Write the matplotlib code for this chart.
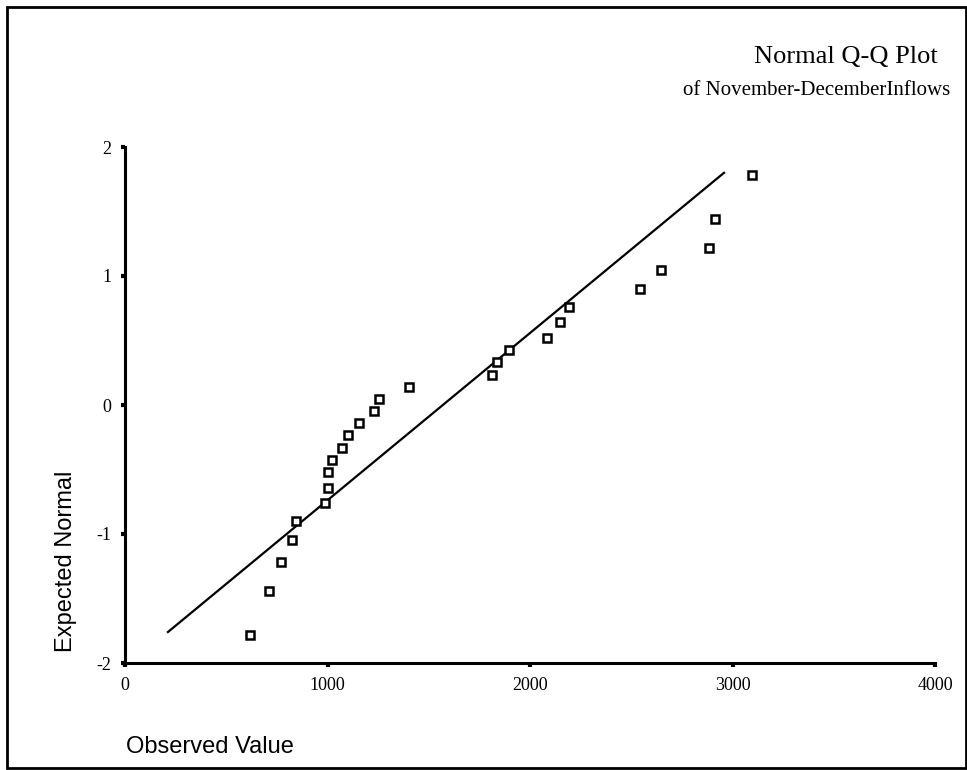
import numpy as np
import matplotlib
matplotlib.use('Agg')
import matplotlib.pyplot as plt
from matplotlib.patches import Rectangle

# observed inflows and their expected normal values
observed = [617, 710, 770, 825, 843, 988, 1004, 1004, 1024, 1073, 1103, 1157, 1230,
            1254, 1404, 1814, 1839, 1895, 2082, 2147, 2194, 2545, 2647, 2885, 2914, 3096]
expected = [-1.78, -1.44, -1.22, -1.05, -0.90, -0.76, -0.64, -0.52, -0.43, -0.33, -0.23,
            -0.14, -0.05, 0.05, 0.14, 0.23, 0.33, 0.43, 0.52, 0.64, 0.76, 0.90, 1.05,
            1.22, 1.44, 1.78]

# reference line end points
line_x = [212, 2958]
line_y = [-1.76, 1.80]

x_ticks = [0, 1000, 2000, 3000, 4000]
y_ticks = [-2, -1, 0, 1, 2]

fig = plt.figure(figsize=(9.67, 7.7), dpi=100)
ax = fig.add_axes([125/967, 1 - 663/770, (935 - 125)/967, (663 - 147)/770])

ax.plot(line_x, line_y, color='black', lw=1.6, zorder=2)
ax.plot(observed, expected, ls='none', marker='s', ms=6, mfc='white', mec='black',
        mew=1.8, zorder=3)

ax.set_xlim(0, 4000)
ax.set_ylim(-2, 2)
ax.set_xticks(x_ticks)
ax.set_yticks(y_ticks)
ax.set_xticklabels([str(v) for v in x_ticks], family='Liberation Serif', fontsize=13)
ax.set_yticklabels([str(v) for v in y_ticks], family='Liberation Serif', fontsize=13)
ax.tick_params(axis='both', direction='out', length=3, width=3, pad=7)

for s in ['top', 'right']:
    ax.spines[s].set_visible(False)
for s in ['left', 'bottom']:
    ax.spines[s].set_linewidth(2.2)

# titles
fig.text(938/967, 1 - 63/770, 'Normal Q-Q Plot', family='Liberation Serif',
         fontsize=19, ha='right', va='baseline')
fig.text(950/967, 1 - 95/770, 'of November-DecemberInflows', family='Liberation Serif',
         fontsize=15, ha='right', va='baseline')

# axis labels
fig.text(126/967, 1 - 753/770, 'Observed Value', family='Liberation Sans',
         fontsize=17, ha='left', va='baseline')
fig.text(66/967, 1 - 652/770, 'Expected Normal', family='Liberation Sans',
         fontsize=17, rotation=90, ha='center', va='bottom')

# outer frame
fig.patches.append(Rectangle((7/967, 1 - 768/770), (966 - 7)/967, (768 - 7)/770,
                             transform=fig.transFigure, fill=False, lw=2, ec='black'))

fig.savefig('out.png', dpi=100)
